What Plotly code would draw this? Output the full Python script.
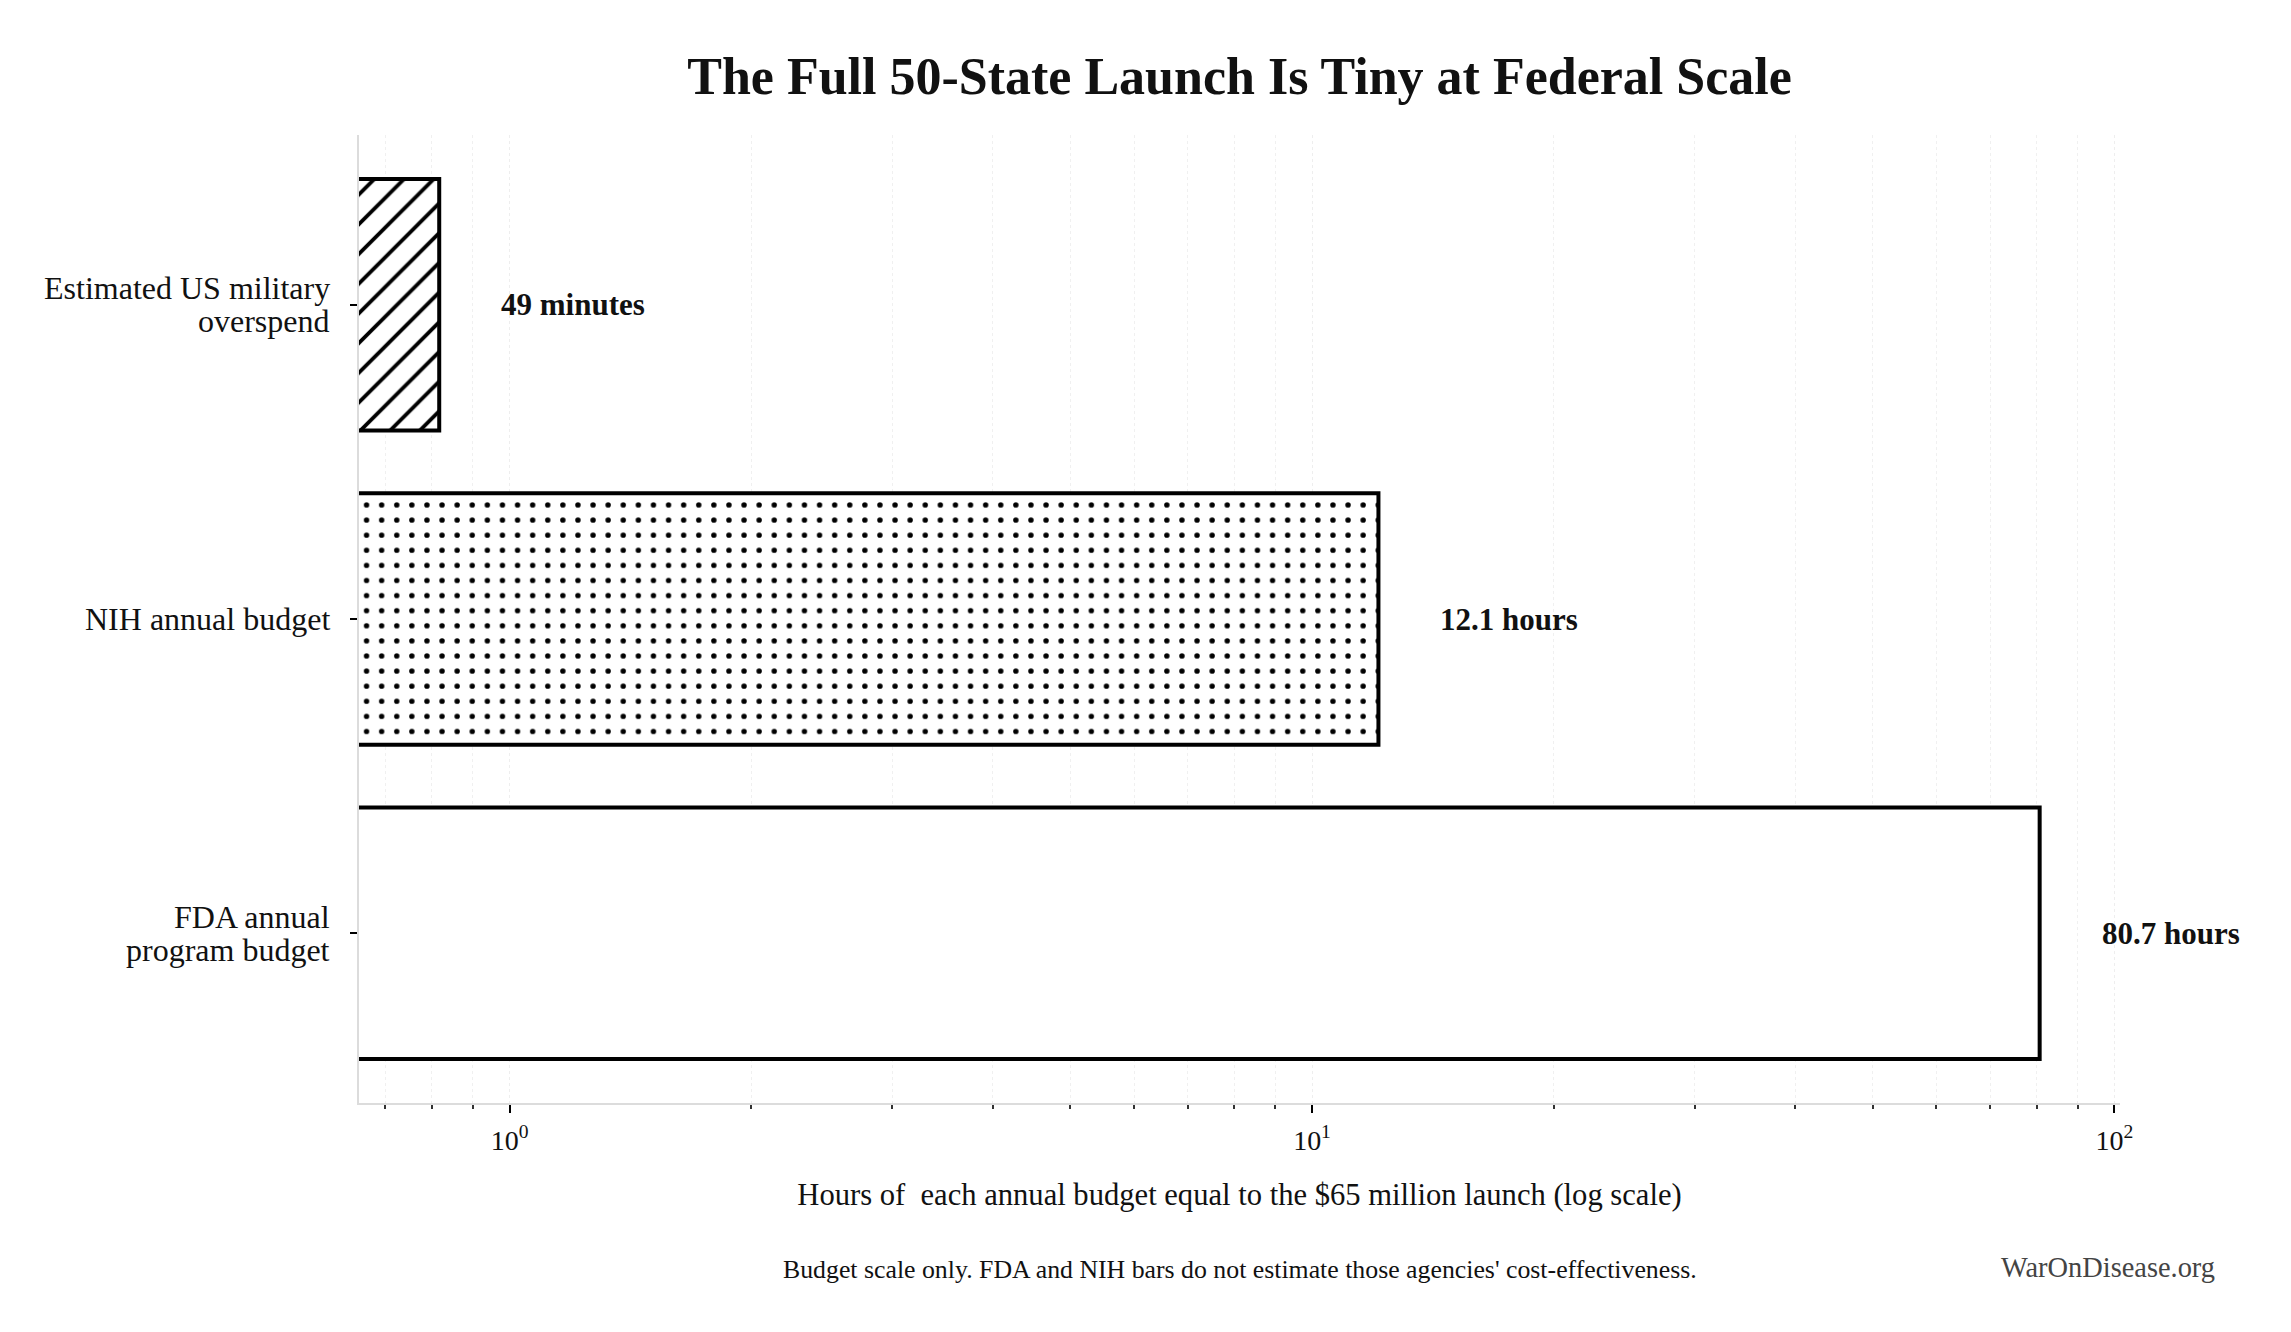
import numpy as np
import plotly.graph_objects as go

# data
categories = ["Estimated US military<br>overspend", "NIH annual budget", "FDA annual<br>program budget"]
hours = [0.817, 12.1, 80.7]
value_labels = ["49 minutes", "12.1 hours", "80.7 hours"]
pattern_shapes = ["/", ".", ""]
major_ticks = [1, 10, 100]
major_tick_text = ["10<sup>0</sup>", "10<sup>1</sup>", "10<sup>2</sup>"]

FONT = "Liberation Serif"
W, H = 2283, 1324  # page body adds an 8px margin

fig = go.Figure()
fig.add_trace(
    go.Bar(
        x=hours,
        y=categories,
        orientation="h",
        width=0.8,
        marker=dict(
            color="white",
            line=dict(color="black", width=4),
            pattern=dict(
                shape=pattern_shapes,
                fgcolor="black",
                fgopacity=1,
                bgcolor="white",
                size=[21, 15.1, 8],
                solidity=[0.18, 0.1, 0.2],
            ),
        ),
        showlegend=False,
        hoverinfo="skip",
    )
)

# value labels to the right of each bar
for cat, h, lab in zip(categories, hours, value_labels):
    fig.add_annotation(
        x=np.log10(h), y=cat, text="<b>" + lab + "</b>",
        xref="x", yref="y", showarrow=False,
        xanchor="left", yanchor="middle", xshift=60,
        font=dict(family=FONT, size=31, color="#111111"),
    )

# category labels, one annotation per line to keep the tight line spacing
LINE_GAP = 33
for cat in categories:
    lines = cat.split("<br>")
    n = len(lines)
    for i, line in enumerate(lines):
        fig.add_annotation(
            x=0, y=cat, xref="paper", yref="y", text=line,
            showarrow=False, xanchor="right", yanchor="middle",
            xshift=-27, yshift=(n - 1) / 2 * LINE_GAP - i * LINE_GAP,
            font=dict(family=FONT, size=32, color="#111111"),
        )

minor_ticks = [m * 10.0 ** k for k in (-1, 0, 1) for m in range(2, 10)]

fig.update_xaxes(
    type="log",
    range=[np.log10(0.649), 2.007],
    tickmode="array",
    tickvals=major_ticks,
    ticktext=major_tick_text,
    ticks="outside",
    ticklen=8,
    tickwidth=2,
    tickcolor="black",
    ticklabelstandoff=3,
    tickfont=dict(family=FONT, size=28, color="#111111"),
    showline=True,
    linecolor="#dcdcdc",
    linewidth=2,
    showgrid=True,
    gridcolor="#eeeeee",
    gridwidth=1,
    griddash="dot",
    zeroline=False,
    minor=dict(
        tickmode="array",
        tickvals=minor_ticks,
        ticks="outside",
        ticklen=4,
        tickwidth=1.5,
        tickcolor="#333333",
        showgrid=True,
        gridcolor="#f0f0f0",
        gridwidth=1,
        griddash="dot",
    ),
    title=dict(
        text="Hours of  each annual budget equal to the $65 million launch (log scale)",
        font=dict(family=FONT, size=30.6, color="#111111"),
        standoff=29,
    ),
)

fig.update_yaxes(
    type="category",
    categoryorder="array",
    categoryarray=categories,
    range=[2.54, -0.54],
    ticks="outside",
    ticklen=7,
    tickwidth=2,
    tickcolor="black",
    showticklabels=False,
    showline=True,
    linecolor="#dcdcdc",
    linewidth=2,
    showgrid=False,
    zeroline=False,
)

fig.add_annotation(
    x=0.5, y=-0.172, xref="paper", yref="paper",
    text="Budget scale only. FDA and NIH bars do not estimate those agencies' cost-effectiveness.",
    showarrow=False, xanchor="center", yanchor="middle",
    font=dict(family=FONT, size=25.8, color="#111111"),
)
fig.add_annotation(
    x=1.0553, y=-0.170, xref="paper", yref="paper",
    text="WarOnDisease.org",
    showarrow=False, xanchor="right", yanchor="middle",
    font=dict(family=FONT, size=28.4, color="#444444"),
)

fig.update_layout(
    width=W,
    height=H,
    margin=dict(l=351, r=171, t=127, b=229, autoexpand=False),
    paper_bgcolor="white",
    plot_bgcolor="white",
    font=dict(family=FONT, color="#111111"),
    title=dict(
        text="<b>The Full 50-State Launch Is Tiny at Federal Scale</b>",
        x=0.5, xref="paper", xanchor="center",
        y=1 - 68 / H, yref="container", yanchor="middle",
        font=dict(family=FONT, size=52, color="#111111"),
    ),
    bargap=0.2,
)

fig.write_html("out.html")
